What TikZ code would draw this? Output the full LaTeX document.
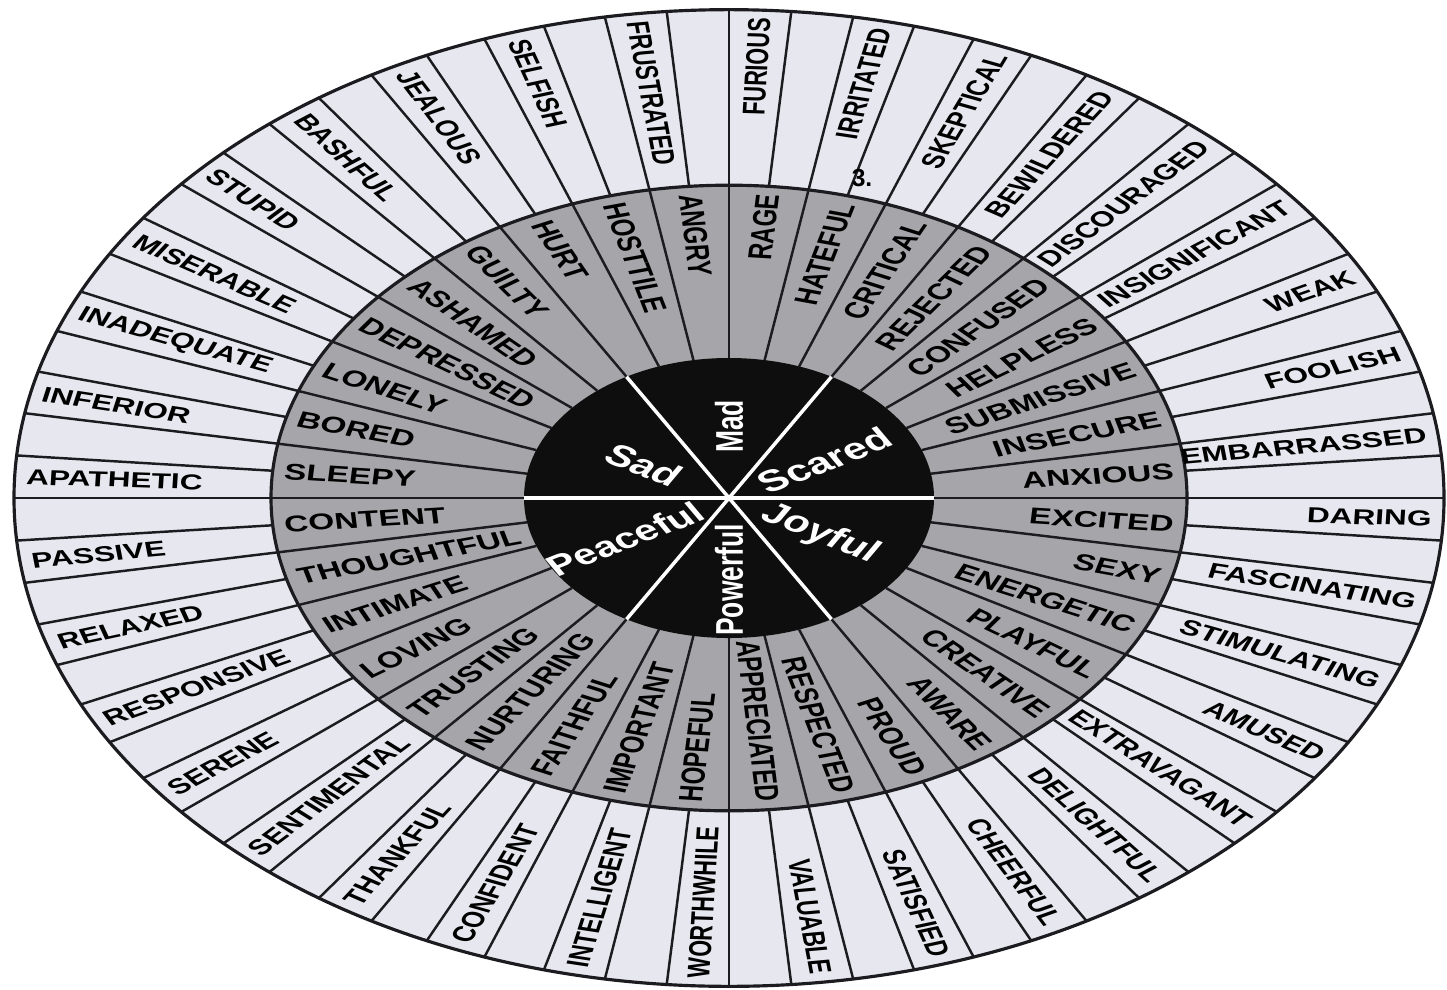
\documentclass[tikz,border=0pt]{standalone}
\usepackage{fontspec}
\setmainfont{Liberation Sans}
\usetikzlibrary{positioning, calc}
\definecolor{paleRing}{HTML}{E7E7EF}
\definecolor{greyRing}{HTML}{A6A6AA}
\definecolor{coreInk}{HTML}{0E0E0E}
\definecolor{spokeInk}{HTML}{1C1C20}

% word on a spoke: style, name, angle, outer radius, text
\newcommand\wheelword[5]{%
  \pgfmathtruncatemacro\wflip{(#3>90 && #3<270) ? 1 : 0}%
  \ifnum\wflip=1
    \node[#1,anchor=west,rotate=#3-180] (#2) at (#3:#4) {#5};
  \else
    \node[#1,anchor=east,rotate=#3] (#2) at (#3:#4) {#5};
  \fi}

\begin{document}
\begin{tikzpicture}
  \tikzset{outword/.style={inner sep=0pt,font=\fontsize{9}{10}\selectfont\bfseries}, midword/.style={inner sep=0pt,font=\fontsize{9.5}{10}\selectfont\bfseries}, coreword/.style={text=white,inner sep=0pt}, spoke/.style={draw=spokeInk,line width=0.7pt}}
  \useasboundingbox (0,0) rectangle (14.47,9.89);
  \fill[white] (0,0) rectangle (14.47,9.89);
  \begin{scope}[shift={(7.29,4.91)}, yscale=0.683, transform shape]
    \fill[paleRing] (0,0) circle (7.15);
    \fill[greyRing] (0,0) circle (4.58);
    \foreach \a in {0,5,...,355} \draw[spoke] (\a:4.58) -- (\a:7.15);
    \foreach \a in {0,10,...,350} \draw[spoke] (\a:2.05) -- (\a:4.58);
    \draw[spoke,line width=0.9pt] (0,0) circle (7.15) (0,0) circle (4.58);
    \fill[coreInk] (0,0) circle (2.05);
    \foreach \a in {0,60,...,300} \draw[white,line width=1pt] (0,0) -- (\a:2.05);
    % centre
    \foreach \a/\r/\rot/\s/\w [count=\i] in {90/1.05/90/11/Mad, 30/1.1/30/12.5/Scared, 330/1.05/-30/12.5/Joyful, 270/1.2/90/11/Powerful, 210/1.2/30/12/Peaceful, 150/0.98/-30/12.5/Sad}
      \node[coreword,rotate=\rot,font=\fontsize{\s}{\s}\selectfont\bfseries] (core\i) at (\a:\r) {\w};
    % middle ring
    \foreach \w [count=\i from 0] in {ANXIOUS, INSECURE, SUBMISSIVE, HELPLESS, CONFUSED, REJECTED, CRITICAL, HATEFUL, RAGE, ANGRY, HOSTTILE, HURT, GUILTY, ASHAMED, DEPRESSED, LONELY, BORED, SLEEPY, CONTENT, THOUGHTFUL, INTIMATE, LOVING, TRUSTING, NURTURING, FAITHFUL, IMPORTANT, HOPEFUL, APPRECIATED, RESPECTED, PROUD, AWARE, CREATIVE, PLAYFUL, ENERGETIC, SEXY, EXCITED} {
      \pgfmathsetmacro\a{5+10*\i}
      \wheelword{midword}{mid\i}{\a}{4.47}{\w}
    }
    % outer ring
    \foreach \w [count=\i from 0] in {EMBARRASSED, FOOLISH, WEAK, INSIGNIFICANT, DISCOURAGED, BEWILDERED, SKEPTICAL, IRRITATED, FURIOUS, FRUSTRATED, SELFISH, JEALOUS, BASHFUL, STUPID, MISERABLE, INADEQUATE, INFERIOR, APATHETIC, PASSIVE, RELAXED, RESPONSIVE, SERENE, SENTIMENTAL, THANKFUL, CONFIDENT, INTELLIGENT, WORTHWHILE, VALUABLE, SATISFIED, CHEERFUL, DELIGHTFUL, EXTRAVAGANT, AMUSED, STIMULATING, FASCINATING, DARING} {
      \pgfmathsetmacro\a{7.5+10*\i}
      \wheelword{outword}{out\i}{\a}{7.04}{\w}
    }
  \end{scope}
  \node[inner sep=0pt,font=\fontsize{7}{8}\selectfont\bfseries] (mark) at (8.62,8.11) {3.};
\end{tikzpicture}
\end{document}
